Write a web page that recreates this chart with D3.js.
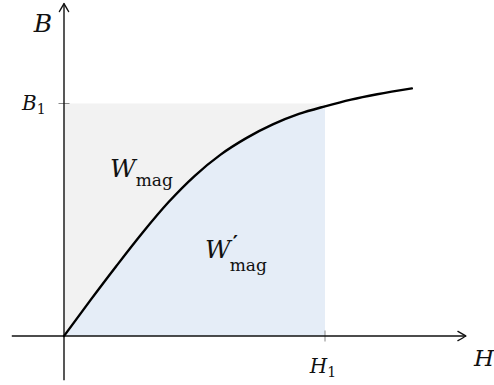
<!DOCTYPE html>
<html>
<head>
<meta charset="utf-8">
<script src="https://cdn.jsdelivr.net/npm/d3@7"></script>
<style>
  html, body { margin: 0; padding: 0; background: #fff; }
  svg { display: block; }
  text { font-family: "DejaVu Serif", "Liberation Serif", serif; fill: #111; }
</style>
</head>
<body>
<svg id="chart" width="494" height="385"></svg>
<script>
// Magnetisation curve B(H), normalised so that H1 = 1 and B1 = 1
const curveH = [0, 0.1, 0.2, 0.3, 0.4, 0.5, 0.6, 0.7, 0.8, 0.9, 1.0, 1.1, 1.2, 1.333];
const curveB = [0, 0.152, 0.300, 0.443, 0.575, 0.688, 0.780, 0.852, 0.910, 0.955, 0.988, 1.017, 1.040, 1.065];

// Operating point
const H1 = 1;
const B1 = 1;

// Axis extents (data units)
const hAxisExtent = [-0.2, 1.54];
const bAxisExtent = [-0.19, 1.43];

const axisNames = { h: "H", b: "B" };
const tickLabels = { h: ["H", "1"], b: ["B", "1"] };
const regionLabels = { energy: ["W", "mag"], coenergy: ["W", "′", "mag"] };

const svg = d3.select("#chart");
const x = d3.scaleLinear().domain([0, 1]).range([64, 325]);
const y = d3.scaleLinear().domain([0, 1]).range([336, 103.5]);

const pts = curveH.map((h, i) => ({ h, b: curveB[i] }));

// Rectangle 0..H1 x 0..B1
svg.append("rect")
  .attr("x", x(0)).attr("y", y(B1))
  .attr("width", x(H1) - x(0)).attr("height", y(0) - y(B1))
  .attr("fill", "#f2f2f2");

// Region below the curve up to H1
const area = d3.area()
  .x(d => x(d.h)).y0(y(0)).y1(d => y(d.b))
  .curve(d3.curveMonotoneX);
svg.append("path")
  .datum(pts.filter(d => d.h <= H1))
  .attr("d", area)
  .attr("fill", "#e5edf7");

// Ticks at H1 and B1
svg.append("line")
  .attr("x1", x(0) - 5.5).attr("x2", x(0) + 5.5)
  .attr("y1", y(B1)).attr("y2", y(B1))
  .attr("stroke", "#888").attr("stroke-width", 1);
svg.append("line")
  .attr("x1", x(H1)).attr("x2", x(H1))
  .attr("y1", y(0) - 5.5).attr("y2", y(0) + 5.5)
  .attr("stroke", "#888").attr("stroke-width", 1);

// Axes with curved arrow heads
function arrowHead(tx, ty, angle) {
  const g = svg.append("g").attr("transform", `translate(${tx},${ty}) rotate(${angle})`);
  g.append("path")
    .attr("d", "M-8,-4.6 Q-2.5,-1.5 0,0 Q-2.5,1.5 -8,4.6")
    .attr("fill", "none").attr("stroke", "#111").attr("stroke-width", 1.4)
    .attr("stroke-linecap", "round").attr("stroke-linejoin", "round");
}

svg.append("line")
  .attr("x1", x(hAxisExtent[0])).attr("x2", x(hAxisExtent[1]))
  .attr("y1", y(0)).attr("y2", y(0))
  .attr("stroke", "#111").attr("stroke-width", 1.4);
arrowHead(x(hAxisExtent[1]), y(0), 0);

svg.append("line")
  .attr("x1", x(0)).attr("x2", x(0))
  .attr("y1", y(bAxisExtent[0])).attr("y2", y(bAxisExtent[1]))
  .attr("stroke", "#111").attr("stroke-width", 1.4);
arrowHead(x(0), y(bAxisExtent[1]), -90);

// B(H) curve
const line = d3.line().x(d => x(d.h)).y(d => y(d.b)).curve(d3.curveMonotoneX);
svg.append("path")
  .datum(pts)
  .attr("d", line)
  .attr("fill", "none").attr("stroke", "#000").attr("stroke-width", 2.4)
  .attr("stroke-linecap", "round");

// Axis names
svg.append("text").attr("x", 43).attr("y", 32)
  .attr("text-anchor", "middle").attr("font-style", "italic").attr("font-size", 25)
  .text(axisNames.b);
svg.append("text").attr("x", 494).attr("y", 366)
  .attr("text-anchor", "end").attr("font-style", "italic").attr("font-size", 23)
  .text(axisNames.h);

// Subscripted labels
function subLabel(px, py, parts, size, subSize, drop, anchor) {
  const t = svg.append("text").attr("x", px).attr("y", py)
    .attr("font-size", size).attr("text-anchor", anchor || "start");
  t.append("tspan").attr("font-style", "italic").text(parts[0]);
  t.append("tspan").attr("font-size", subSize).attr("dy", drop).text(parts[1]);
  return t;
}
subLabel(22, 110, tickLabels.b, 20, 14, 4, "start");
subLabel(323, 373, tickLabels.h, 20, 14, 4, "middle");
subLabel(110, 177, regionLabels.energy, 25, 17, 9, "start");

// W'_mag: prime raised, subscript set under it
const wx = 205;
const wText = svg.append("text").attr("x", wx).attr("y", 258)
  .attr("font-size", 25).attr("font-style", "italic").text(regionLabels.coenergy[0]);
const wEnd = wx + wText.node().getComputedTextLength();
svg.append("text").attr("x", wEnd + 2).attr("y", 250)
  .attr("font-size", 20).attr("font-weight", "bold").text(regionLabels.coenergy[1]);
svg.append("text").attr("x", wEnd - 1).attr("y", 271)
  .attr("font-size", 17).text(regionLabels.coenergy[2]);
</script>
</body>
</html>
